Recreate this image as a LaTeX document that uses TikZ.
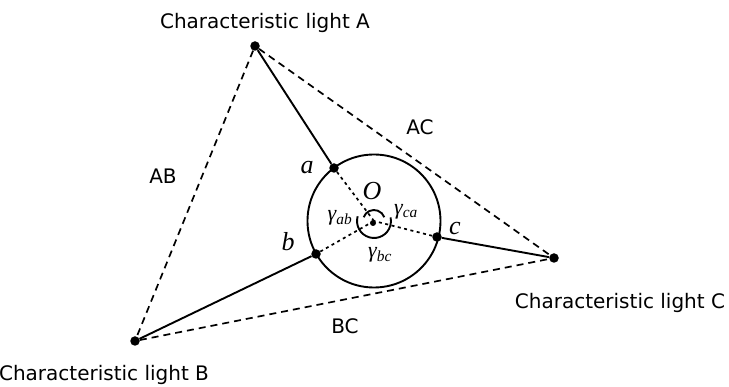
\documentclass[tikz,border=0pt]{standalone}
\usepackage{fontspec}
\setmainfont{DejaVu Sans}
\newfontfamily\timfont{Liberation Serif}
\begin{document}
\begin{tikzpicture}[x=1pt,y=-1pt,
  pt/.style={circle,fill=black,inner sep=0pt,minimum size=9.5pt},
  lbl/.style={font=\fontsize{20}{22}\selectfont,inner sep=0pt,anchor=base},
  ml/.style={font=\timfont\itshape\fontsize{26}{28}\selectfont,inner sep=0pt},
  gl/.style={font=\timfont\itshape\fontsize{22}{24}\selectfont,inner sep=0pt},
  solidl/.style={line width=1.9pt},
  dashl/.style={line width=1.7pt,dash pattern=on 7pt off 5pt},
  dotl/.style={line width=1.7pt,dash pattern=on 3pt off 3.5pt}]
\useasboundingbox (0,0) rectangle (729,387);
\node[pt] (A) at (255,46) {};
\node[pt] (B) at (135,341) {};
\node[pt] (C) at (554,258) {};
\coordinate (O) at (374,221);
\draw[line width=1.9pt] (O) circle[radius=66.5];
\node[pt] (a) at (334,168) {};
\node[pt] (b) at (316,254) {};
\node[pt] (c) at (437,237) {};
\node[pt,minimum size=6pt] (o) at (373,223) {};
\draw[solidl] (A) -- (a);
\draw[solidl] (B) -- (b);
\draw[solidl] (C) -- (c);
\draw[dashl] (A) -- (B);
\draw[dashl] (A) -- (C);
\draw[dashl] (B) -- (C);
\draw[dotl] (a) -- (O);
\draw[dotl] (b) -- (O);
\draw[dotl] (c) -- (O);
% angle arcs
\draw[line width=1.9pt] ([shift={(196:17)}]O) arc[start angle=196,end angle=-12,radius=17];
\draw[line width=1.9pt] ([shift={(200:11)}]O) arc[start angle=200,end angle=340,radius=11];
% labels
\node[lbl] (lA) at (265,29) {Characteristic light A};
\node[lbl] (lB) at (104,381) {Characteristic light B};
\node[lbl] (lC) at (620,309) {Characteristic light C};
\node[lbl] (lAB) at (163,184) {AB};
\node[lbl] (lAC) at (420,135) {AC};
\node[lbl] (lBC) at (345,334) {BC};
\node[ml] (la) at (307,168) {a};
\node[ml] (lb) at (288,242) {b};
\node[ml] (lc) at (455,229) {c};
\node[ml] (lO) at (372,191) {O};
\node[gl] (gab) at (340,218) {γ\textsubscript{\itshape ab}};
\node[gl] (gca) at (406,212) {γ\textsubscript{\itshape ca}};
\node[gl] (gbc) at (380,255) {γ\textsubscript{\itshape bc}};
\end{tikzpicture}
\end{document}
